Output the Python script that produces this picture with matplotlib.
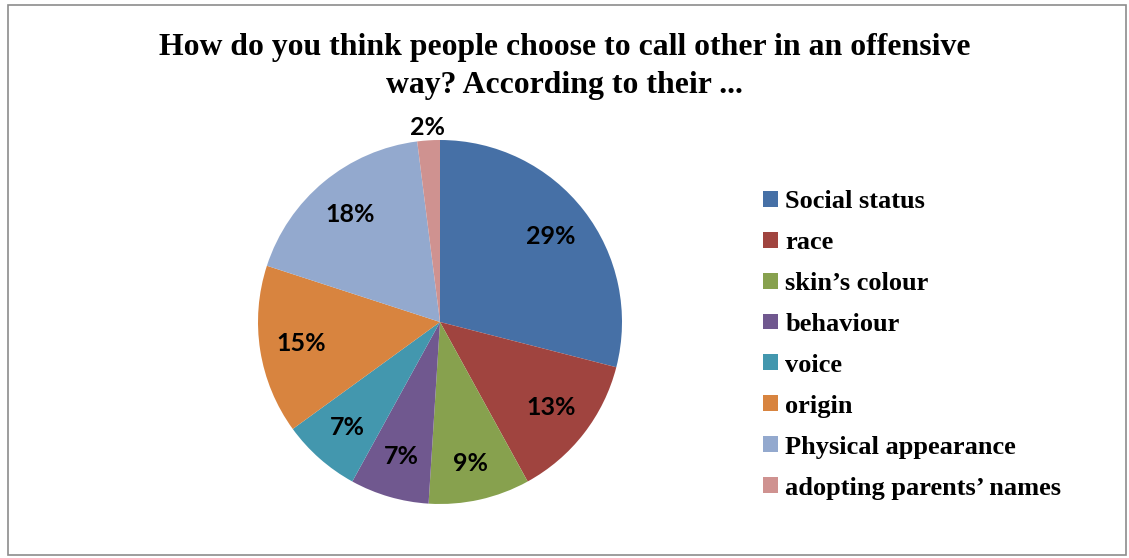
import matplotlib
matplotlib.use("Agg")
import matplotlib.pyplot as plt
from matplotlib.patches import Rectangle
import numpy as np

categories = ["Social status", "race", "skin\u2019s colour", "behaviour", "voice",
              "origin", "Physical appearance", "adopting parents\u2019 names"]
values = [29, 13, 9, 7, 7, 15, 18, 2]
colors = ["#4670A6", "#A0443F", "#87A14E", "#70588F", "#4397AE",
          "#D8843F", "#93A9CE", "#CF9290"]
title_lines = ["How do you think people choose to call other in an offensive",
               "way? According to their ..."]

W, H = 1129, 558
fig = plt.figure(figsize=(W / 100, H / 100), dpi=100)

# border
fig.patches.append(Rectangle((8 / W, 3 / H), (1126 - 8) / W, (553 - 3) / H,
                             transform=fig.transFigure, fill=False,
                             edgecolor="#8c8c8c", linewidth=1.2))

cx, cy, r = 440, H - 322, 182
ax = fig.add_axes([(cx - r) / W, (cy - r) / H, 2 * r / W, 2 * r / H])
wedges, texts, autotexts = ax.pie(
    values, colors=colors, startangle=90, counterclock=False,
    autopct=lambda p: f"{p:.0f}%", pctdistance=0.77,
    wedgeprops=dict(linewidth=0),
    textprops=dict(fontsize=18, fontweight="bold", family="Lato", color="black"))
ax.set_xlim(-1, 1)
ax.set_ylim(-1, 1)

# small slice label outside
w = wedges[-1]
ang = np.deg2rad((w.theta1 + w.theta2) / 2)
autotexts[-1].set_position((1.07 * np.cos(ang), 1.07 * np.sin(ang)))
autotexts[2].set_position((0.17, -0.78))

for i, line in enumerate(title_lines):
    fig.text(0.5, (H - 47 - 38 * i) / H, line, ha="center", va="center",
             fontsize=22.9, fontweight="bold", family="Liberation Serif")

leg = fig.legend(wedges, categories, loc="upper left",
                 bbox_to_anchor=(763 / W, (H - 190) / H), frameon=False,
                 prop=dict(family="Liberation Serif", weight="bold", size=19),
                 handlelength=0.55, handleheight=0.55, handletextpad=0.3,
                 labelspacing=0.68, borderpad=0, borderaxespad=0)

fig.savefig("out.png", dpi=100, facecolor="white")
